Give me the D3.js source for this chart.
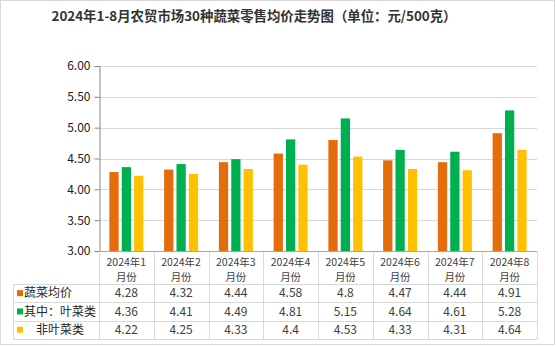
<!DOCTYPE html>
<html>
<head>
<meta charset="utf-8">
<script src="https://cdn.jsdelivr.net/npm/d3@7"></script>
<style>
  html, body { margin: 0; padding: 0; background: #fff; }
  svg { display: block; font-family: "Noto Sans CJK SC", "Noto Sans", sans-serif; }
</style>
</head>
<body>
<svg id="chart" width="556" height="346"></svg>
<script>
// Monthly retail prices of 30 vegetables at farmers' markets (yuan / 500 g)
const months = ["2024年1月份", "2024年2月份", "2024年3月份", "2024年4月份",
                "2024年5月份", "2024年6月份", "2024年7月份", "2024年8月份"];
const seriesNames = ["蔬菜均价", "其中：叶菜类", "　非叶菜类"];
const avgAll   = [4.28, 4.32, 4.44, 4.58, 4.8, 4.47, 4.44, 4.91];
const leafy    = [4.36, 4.41, 4.49, 4.81, 5.15, 4.64, 4.61, 5.28];
const nonLeafy = [4.22, 4.25, 4.33, 4.4, 4.53, 4.33, 4.31, 4.64];
const yTicks = [3.0, 3.5, 4.0, 4.5, 5.0, 5.5, 6.0];
const colors = ["#E46C0A", "#00B050", "#FFC000"];
const title = "2024年1-8月农贸市场30种蔬菜零售均价走势图（单位：元/500克）";

const seriesValues = [avgAll, leafy, nonLeafy];

const svg = d3.select("#chart");
const plot = { left: 99, right: 537, top: 66, bottom: 251 };
const headerBottom = 284, rowH = 18.3;
const tableLeft = 13;

// outer frame
svg.append("rect").attr("x", 0.5).attr("y", 0.5).attr("width", 554).attr("height", 344)
  .attr("fill", "#fff").attr("stroke", "#D9D9D9");

// title
svg.append("text").attr("x", 254).attr("y", 21).attr("text-anchor", "middle")
  .attr("font-size", 13.4).attr("font-weight", "bold").attr("fill", "#333")
  .text(title);

const x = d3.scaleBand().domain(months).range([plot.left, plot.right]);
const xs = d3.scaleBand().domain(d3.range(3)).range([-17, 17]).paddingInner(0.25);
const y = d3.scaleLinear().domain([3, 6]).range([plot.bottom, plot.top]);

// gridlines
svg.append("g").selectAll("line").data(yTicks.slice(1)).join("line")
  .attr("x1", plot.left).attr("x2", plot.right)
  .attr("y1", d => Math.round(y(d)) + 0.5).attr("y2", d => Math.round(y(d)) + 0.5)
  .attr("stroke", "#D9D9D9").attr("stroke-width", 1);

// y axis
const yAxis = svg.append("g").attr("transform", `translate(${plot.left + 0.5},0)`)
  .call(d3.axisLeft(y).tickValues(yTicks).tickFormat(d3.format(".2f")).tickSize(5).tickPadding(4));
yAxis.select(".domain").attr("stroke", "#868686");
yAxis.selectAll(".tick line").attr("stroke", "#868686");
yAxis.selectAll(".tick text").attr("font-size", 12).attr("fill", "#1a1a1a")
  .attr("font-family", "'Noto Sans CJK SC', sans-serif");

// bars
const groups = svg.append("g").selectAll("g").data(months).join("g")
  .attr("transform", d => `translate(${x(d) + x.bandwidth() / 2},0)`);
groups.selectAll("rect").data((m, i) => seriesValues.map((s, k) => ({ k, v: s[i] }))).join("rect")
  .attr("x", d => xs(d.k)).attr("width", xs.bandwidth())
  .attr("y", d => y(d.v)).attr("height", d => y(3) - y(d.v))
  .attr("fill", d => colors[d.k]);

// data table
const grid = svg.append("g").attr("stroke", "#D9D9D9").attr("stroke-width", 1);
// horizontal rules
[0, 1, 2, 3].forEach(r => {
  const yy = Math.round(headerBottom + r * rowH) + 0.5;
  grid.append("line").attr("x1", tableLeft).attr("x2", plot.right).attr("y1", yy).attr("y2", yy);
});
const tableBottom = Math.round(headerBottom + 3 * rowH) + 0.5;
// vertical rules
grid.append("line").attr("x1", tableLeft + 0.5).attr("x2", tableLeft + 0.5)
  .attr("y1", headerBottom).attr("y2", tableBottom);
months.forEach(m => {
  const xx = Math.round(x(m)) + 0.5;
  grid.append("line").attr("x1", xx).attr("x2", xx).attr("y1", plot.bottom).attr("y2", tableBottom);
});
grid.append("line").attr("x1", plot.right + 0.5).attr("x2", plot.right + 0.5)
  .attr("y1", plot.bottom).attr("y2", tableBottom);
// x axis baseline
svg.append("line").attr("x1", plot.left).attr("x2", plot.right)
  .attr("y1", plot.bottom + 0.5).attr("y2", plot.bottom + 0.5).attr("stroke", "#A6A6A6");

// header: category labels wrapped onto two lines
const header = svg.append("g").attr("font-size", 10.5).attr("fill", "#404040").attr("text-anchor", "middle");
months.forEach(m => {
  const cx = x(m) + x.bandwidth() / 2;
  header.append("text").attr("x", cx).attr("y", 265.5).text(m.slice(0, m.length - 2));
  header.append("text").attr("x", cx).attr("y", 281).text(m.slice(-2));
});

// rows: legend key + values
seriesNames.forEach((name, k) => {
  const cy = headerBottom + k * rowH + rowH / 2;
  svg.append("rect").attr("x", 17).attr("y", cy - 3).attr("width", 6).attr("height", 6)
    .attr("fill", colors[k]);
  svg.append("text").attr("x", 24).attr("y", cy + 4.3).attr("font-size", 12)
    .attr("fill", "#262626").style("white-space", "pre").text(name);
  svg.append("g").selectAll("text").data(seriesValues[k]).join("text")
    .attr("x", (d, i) => x(months[i]) + x.bandwidth() / 2)
    .attr("y", cy + 4.3).attr("text-anchor", "middle")
    .attr("font-size", 12).attr("fill", "#404040")
    .text(d => String(d));
});
</script>
</body>
</html>
